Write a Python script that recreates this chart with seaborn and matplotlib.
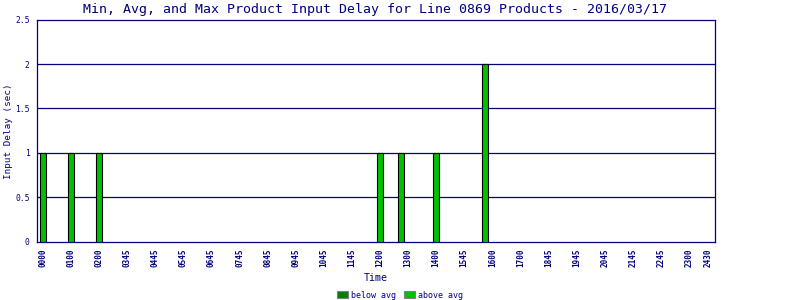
import matplotlib
matplotlib.use("Agg")
import matplotlib.pyplot as plt
from matplotlib.patches import Patch
import seaborn as sns
import pandas as pd

# data
bar_times = [0.0, 1.0, 2.0, 12.0, 12.75, 14.0, 15.75]
bar_delays = [1, 1, 1, 1, 1, 1, 2]
tick_positions = list(range(24)) + [23.7]
tick_labels = ["0000", "0100", "0200", "0345", "0445", "0545", "0645", "0745",
               "0845", "0945", "1045", "1145", "1200", "1300", "1400", "1545",
               "1600", "1700", "1845", "1945", "2045", "2145", "2245", "2300", "2430"]
y_ticks = [0, 0.5, 1, 1.5, 2, 2.5]
y_tick_labels = ["0", "0.5", "1", "1.5", "2", "2.5"]
legend_labels = ["below avg", "above avg"]
legend_colors = ["#008000", "#00C000"]

navy = "#000080"
sns.set_style("white")
plt.rcParams['font.family'] = ['DejaVu Sans Mono', 'DejaVu Sans']

df = pd.DataFrame({"time": bar_times, "delay": bar_delays})

fig = plt.figure(figsize=(8, 3), dpi=100)
ax = fig.add_axes([36.7 / 800, 1 - 241.7 / 300, (715.3 - 36.7) / 800, (241.7 - 19.7) / 300])

sns.barplot(data=df, x="time", y="delay", native_scale=True, width=0.27,
            color="#00C000", saturation=1, edgecolor="black", linewidth=0.8,
            errorbar=None, ax=ax, zorder=3)

ax.set_xlim(-0.224, 23.94)
ax.set_ylim(0, 2.5)
ax.set_yticks(y_ticks)
ax.set_yticklabels(y_tick_labels, fontsize=5.8, color=navy)
ax.set_xticks(tick_positions)
ax.set_xticklabels(tick_labels, rotation=90, fontsize=5.5, color=navy, fontweight="bold")
ax.tick_params(axis="x", length=0, pad=5)
ax.tick_params(axis="y", length=3, width=0.8, color=navy, pad=2)

for yv in y_ticks[1:-1]:
    ax.axhline(yv, color=navy, linewidth=0.9, zorder=1)

for s in ax.spines.values():
    s.set_color(navy)
    s.set_linewidth(0.9)
    s.set_visible(True)

ax.set_xlabel("Time", fontsize=7.2, color=navy, labelpad=4)
ax.set_ylabel("Input Delay (sec)", fontsize=6.7, color=navy, va="center")
ax.yaxis.set_label_coords(-0.042, 0.5)
fig.text(0.469, 1 - 9 / 300, "Min, Avg, and Max Product Input Delay for Line 0869 Products - 2016/03/17",
         ha="center", va="center", fontsize=9.55, color=navy)

handles = [Patch(facecolor=c, edgecolor="grey", linewidth=0.8) for c in legend_colors]
leg = fig.legend(handles, legend_labels, loc="center", bbox_to_anchor=(400 / 800, 1 - 295 / 300),
                 ncol=2, frameon=False, fontsize=6, handlelength=1.3, handleheight=0.9,
                 handletextpad=0.4, columnspacing=0.9, borderaxespad=0, borderpad=0)
for t in leg.get_texts():
    t.set_color(navy)

fig.savefig("out.png", dpi=100)
